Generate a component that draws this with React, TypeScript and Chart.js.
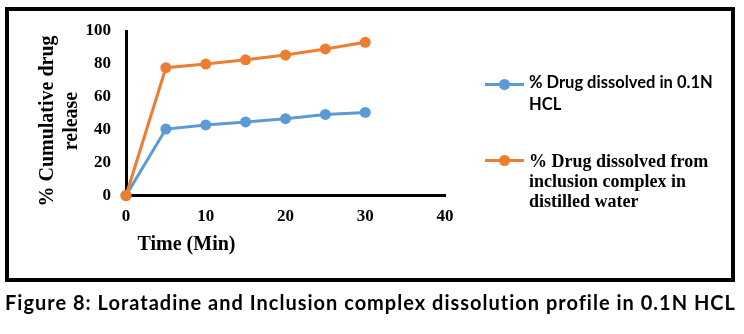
import React, { useEffect, useRef } from "react";
import { Chart, registerables } from "chart.js";

Chart.register(...registerables);

// ---- data ----
const timeMin = [0, 5, 10, 15, 20, 25, 30];
const hclRelease = [0, 40.4, 42.9, 44.7, 46.7, 49.3, 50.5];
const complexRelease = [0, 77.7, 79.9, 82.5, 85.4, 89.1, 93.1];
const xAxisRange = [0, 40];
const yAxisRange = [0, 100];
const xStep = 10;
const yStep = 20;
const xTitle = "Time (Min)";
const yTitleLines = ["% Cumulative drug", "release"];
const legendHcl = ["% Drug dissolved in 0.1N", "HCL"];
const legendComplex = ["% Drug dissolved from", "inclusion complex in", "distilled water"];
const caption = "Figure 8: Loratadine and Inclusion complex dissolution profile in 0.1N HCL";

const BLUE = "#5B9BD5";
const ORANGE = "#ED7D31";
const SERIF = "'Liberation Serif', 'Times New Roman', serif";
const SANS = "Lato, 'Open Sans', sans-serif";

function LegendMarker({ color, top }: { color: string; top: number }) {
  return (
    <div style={{ position: "absolute", left: 485, top: top - 1.5, width: 39, height: 3, background: color }}>
      <div
        style={{
          position: "absolute",
          left: 19.5 - 5.5,
          top: 1.5 - 5.5,
          width: 11,
          height: 11,
          borderRadius: "50%",
          background: color,
        }}
      />
    </div>
  );
}

export default function App() {
  const canvasRef = useRef<HTMLCanvasElement | null>(null);

  useEffect(() => {
    const canvas = canvasRef.current;
    if (!canvas) return;
    const tickFont = { family: SERIF, size: 17, weight: "bold" as const };
    const chart = new Chart(canvas, {
      type: "line",
      data: {
        datasets: [
          {
            label: legendHcl.join(" "),
            data: timeMin.map((x, i) => ({ x, y: hclRelease[i] })),
            borderColor: BLUE,
            backgroundColor: BLUE,
            borderWidth: 3,
            pointRadius: 5.5,
            pointBorderWidth: 0,
            pointBackgroundColor: BLUE,
            tension: 0,
            clip: false as any,
            order: 2,
          },
          {
            label: legendComplex.join(" "),
            data: timeMin.map((x, i) => ({ x, y: complexRelease[i] })),
            borderColor: ORANGE,
            backgroundColor: ORANGE,
            borderWidth: 3,
            pointRadius: 5.5,
            pointBorderWidth: 0,
            pointBackgroundColor: ORANGE,
            tension: 0,
            clip: false as any,
            order: 1,
          },
        ],
      },
      options: {
        responsive: false,
        animation: false,
        events: [],
        layout: { padding: { top: 31, right: 35, left: 0, bottom: 0 } },
        plugins: { legend: { display: false }, tooltip: { enabled: false }, title: { display: false } },
        scales: {
          x: {
            type: "linear",
            min: xAxisRange[0],
            max: xAxisRange[1],
            ticks: { stepSize: xStep, padding: 11, font: tickFont, color: "#000" },
            grid: { display: false, drawTicks: false },
            border: { display: true, color: "#000", width: 3 },
            afterFit: (s: any) => {
              s.height = 84.5;
            },
          },
          y: {
            type: "linear",
            min: yAxisRange[0],
            max: yAxisRange[1],
            ticks: { stepSize: yStep, padding: 15, font: tickFont, color: "#000" },
            grid: { display: false, drawTicks: false },
            border: { display: true, color: "#000", width: 3 },
            afterFit: (s: any) => {
              s.width = 126;
            },
          },
        },
      },
    });
    return () => chart.destroy();
  }, []);

  return (
    <div
      style={{
        position: "fixed",
        left: 0,
        top: 0,
        width: 744,
        height: 334,
        background: "#fff",
        overflow: "hidden",
        color: "#000",
      }}
    >
      <canvas ref={canvasRef} width={480} height={280} style={{ position: "absolute", left: 0, top: 0 }} />
      {/* outer frame */}
      <div
        style={{
          position: "absolute",
          left: 5,
          top: 7,
          width: 730,
          height: 275,
          border: "4px solid #000",
          boxSizing: "border-box",
          pointerEvents: "none",
        }}
      />
      {/* y axis title */}
      <div
        style={{
          position: "absolute",
          left: 58 - 110,
          top: 121 - 24,
          width: 220,
          height: 48,
          transform: "rotate(-90deg)",
          textAlign: "center",
          font: `bold 20px ${SERIF}`,
          lineHeight: "24px",
          whiteSpace: "nowrap",
        }}
      >
        {yTitleLines[0]}
        <br />
        {yTitleLines[1]}
      </div>
      {/* x axis title */}
      <div
        style={{
          position: "absolute",
          left: 186.5 - 80,
          top: 231,
          width: 160,
          textAlign: "center",
          font: `bold 20px ${SERIF}`,
          lineHeight: "24px",
          whiteSpace: "nowrap",
        }}
      >
        {xTitle}
      </div>
      {/* legend */}
      <LegendMarker color={BLUE} top={84} />
      <div
        style={{
          position: "absolute",
          left: 529,
          top: 71,
          font: `bold 16.5px ${SANS}`,
          lineHeight: "22px",
          whiteSpace: "nowrap",
        }}
      >
        {legendHcl[0]}
        <br />
        {legendHcl[1]}
      </div>
      <LegendMarker color={ORANGE} top={160} />
      <div
        style={{
          position: "absolute",
          left: 529,
          top: 151,
          font: `bold 18px ${SERIF}`,
          lineHeight: "20px",
          whiteSpace: "nowrap",
        }}
      >
        {legendComplex[0]}
        <br />
        {legendComplex[1]}
        <br />
        {legendComplex[2]}
      </div>
      {/* caption */}
      <div
        style={{
          position: "absolute",
          left: 5,
          top: 290,
          font: `bold 20px ${SANS}`,
          letterSpacing: "1px",
          lineHeight: "24px",
          whiteSpace: "nowrap",
        }}
      >
        {caption}
      </div>
    </div>
  );
}
